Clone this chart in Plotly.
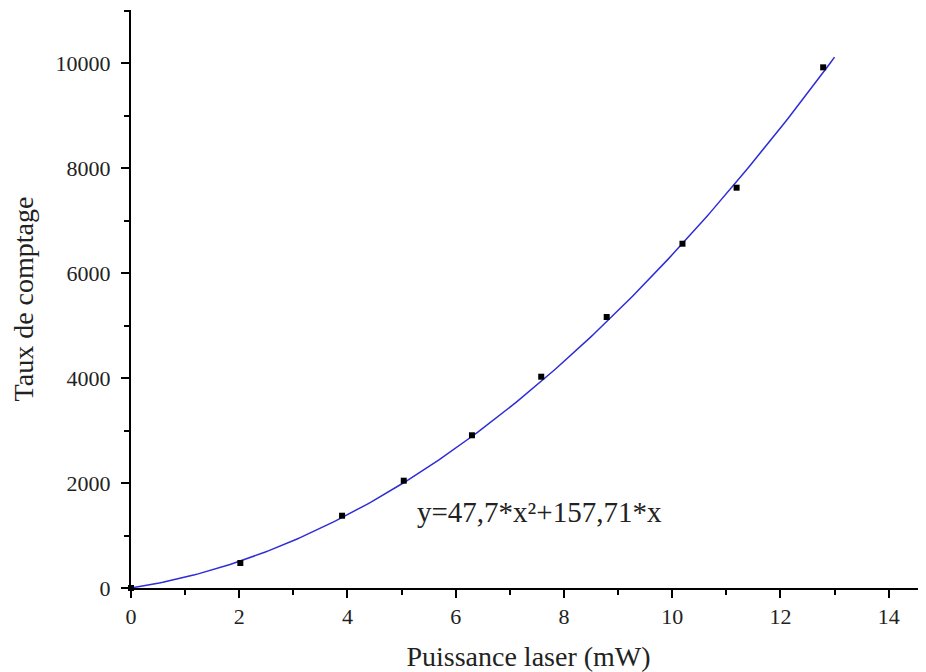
import numpy as np
import plotly.graph_objects as go

# measured data points
puissance = [0.0, 2.02, 3.90, 5.04, 6.30, 7.58, 8.79, 10.19, 11.19, 12.79]
taux = [0, 476, 1377, 2044, 2909, 4025, 5162, 6558, 7625, 9918]

# fit coefficients shown on the chart: y = a*x^2 + b*x
fit_a = 47.7
fit_b = 157.71
fit_xmax = 13.0
fit_label = "y=47,7*x²+157,71*x"

x_ticks = [0, 2, 4, 6, 8, 10, 12, 14]
x_ticktext = ["0", "2", "4", "6", "8", "10", "12", "14"]
y_ticks = [0, 2000, 4000, 6000, 8000, 10000]
y_ticktext = ["0", "2000", "4000", "6000", "8000", "10000"]

xf = np.linspace(0, fit_xmax, 200)
yf = fit_a * xf**2 + fit_b * xf

fig = go.Figure()
fig.add_trace(go.Scatter(x=xf, y=yf, mode="lines",
                         line=dict(color="rgb(45,45,215)", width=1.5),
                         showlegend=False, hoverinfo="skip"))
fig.add_trace(go.Scatter(x=puissance, y=taux, mode="markers",
                         marker=dict(symbol="square", size=6, color="black"),
                         showlegend=False, cliponaxis=False))

font = "Liberation Serif, Times New Roman, serif"
axis_common = dict(showline=True, linecolor="black", linewidth=2,
                   ticks="outside", ticklen=8, tickwidth=2, tickcolor="black",
                   showgrid=False, zeroline=False, mirror=False,
                   tickfont=dict(family=font, size=22, color="#222"))

fig.update_xaxes(range=[0, 14.69], tickvals=x_ticks, ticktext=x_ticktext,
                 minor=dict(ticks="outside", ticklen=5, tickwidth=2, tickcolor="black", dtick=1, showgrid=False),
                 title=dict(text="Puissance laser (mW)", font=dict(family=font, size=28, color="#222"), standoff=22),
                 **axis_common)
fig.update_yaxes(range=[0, 11010], tickvals=y_ticks, ticktext=y_ticktext, ticklabelstandoff=6,
                 minor=dict(ticks="outside", ticklen=5, tickwidth=2, tickcolor="black", dtick=1000, showgrid=False),
                 title=dict(text="Taux de comptage", font=dict(family=font, size=28, color="#222"), standoff=23),
                 **axis_common)

fig.add_annotation(x=5.24, y=1448, xanchor="left", yanchor="middle", text=fit_label,
                   showarrow=False, font=dict(family=font, size=29, color="#222"))

fig.update_layout(width=918, height=664, margin=dict(l=123, r=0, t=2, b=84, autoexpand=False),
                  plot_bgcolor="white", paper_bgcolor="white")

fig.write_html("out.html")
